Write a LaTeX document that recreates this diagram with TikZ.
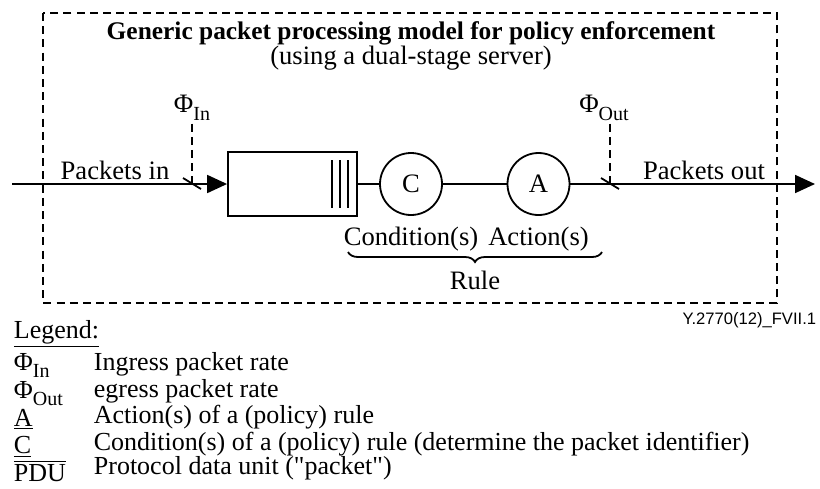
\documentclass[tikz,border=0pt]{standalone}
\usepackage{fontspec}
\setmainfont{Liberation Serif}
\newfontfamily\figidfont{Liberation Sans}
\usepackage{tikz}
\usetikzlibrary{arrows.meta,positioning,calc,decorations.pathreplacing}
\newcommand{\phirate}[1]{Φ\raisebox{-0.65ex}{\fontsize{10}{11}\selectfont #1}}

\begin{document}
\begin{tikzpicture}[x=0.5pt,y=-0.5pt,line width=0.9pt,font=\fontsize{13.3}{15}\selectfont,
  frame/.style={dash pattern=on 4pt off 2.6pt},
  probe/.style={dash pattern=on 4pt off 2.6pt},
  stage/.style={circle,draw,minimum size=31pt,inner sep=0pt},
  flow/.style={-{Triangle[length=10pt,width=9pt]}},
  legitem/.style={anchor=base west,inner sep=0pt,font=\fontsize{13}{15}\selectfont}]
\useasboundingbox (0,0) rectangle (820,488);
\draw[frame] (43,13) rectangle (777,303);
\node[font=\fontsize{12.7}{14}\selectfont\bfseries] (title) at (411,33) {Generic packet processing model for policy enforcement};
\node (subtitle) at (411,58) {(using a dual-stage server)};
\coordinate (src) at (12,184);
\node[draw,minimum width=64.5pt,minimum height=32pt,inner sep=0pt] (queue) at (292.5,184) {};
\foreach \bx in {332,340,348}{\draw (\bx,160) -- (\bx,208);}
\node[stage] (cond) at (411,184) {C};
\node[stage] (act) at (538.5,184) {A};
\coordinate (snk) at (815,184);
\draw[flow] (src) -- (queue);
\draw (queue) -- (cond);
\draw (cond) -- (act);
\draw[flow] (act) -- (snk);
\coordinate (pin) at (192,184);
\coordinate (pout) at (610,184);
\node[inner sep=1pt] (phiin) at (192,108) {\phirate{In}};
\node[inner sep=1pt] (phiout) at (604,108) {\phirate{Out}};
\draw[probe] (pin |- phiin.south) -- (pin);
\draw[probe] (pout |- phiout.south) -- (pout);
\draw ([shift={(-9,-6)}]pin) -- ([shift={(9,5)}]pin);
\draw ([shift={(-9,-6)}]pout) -- ([shift={(9,5)}]pout);
\node[anchor=base] (pktin) at (115,179) {Packets in};
\node[anchor=base] (pktout) at (704,179) {Packets out};
\node[below=2pt of cond] (condlbl) {Condition(s)};
\node[below=2pt of act] (actlbl) {Action(s)};
\coordinate (brl) at (348,252);
\coordinate (brr) at (602,252);
\draw[decorate,decoration={brace,mirror,amplitude=5pt}] (brl) -- (brr);
\node[anchor=base] (rule) at (475,289) {Rule};
\node[anchor=base east,inner sep=0pt,font=\figidfont\fontsize{8.3}{9}\selectfont] (figid) at (817,324) {Y.2770(12)\_FVII.1};
\node[legitem] (legend) at (13,338) {\underline{Legend:}};
\foreach \sy/\ty/\sym/\txt [count=\i] in {370/370/{\phirate{In}}/Ingress packet rate,398/397/{\phirate{Out}}/egress packet rate,426/423/{\underline{A}}/Action(s) of a (policy) rule,453/450/{\underline{C}}/Condition(s) of a (policy) rule (determine the packet identifier),481/474/{$\overline{\mbox{PDU}}$}/Protocol data unit (\textquotedbl packet\textquotedbl)}{
  \node[legitem] (sym\i) at (13,\sy) {\sym};
  \node[legitem] (txt\i) at (93,\ty) {\txt};
}
\end{tikzpicture}
\end{document}
